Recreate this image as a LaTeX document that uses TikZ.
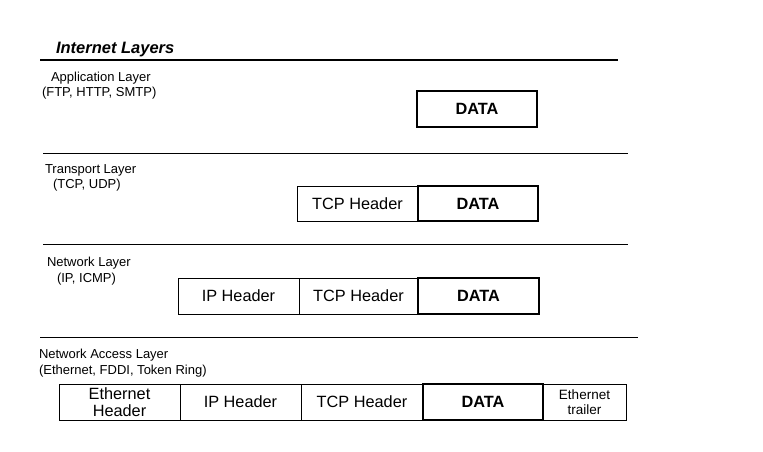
\documentclass[tikz,border=0pt]{standalone}
\usepackage{fontspec}
\setmainfont{Liberation Sans}
\begin{document}
\begin{tikzpicture}[x=1pt,y=-1pt,
  cell/.style={draw, line width=0.8pt, inner sep=0pt, outer sep=0pt, anchor=north west,
    align=center, font=\fontsize{16.3}{17.5}\selectfont},
  datacell/.style={cell, line width=2.2pt, font=\fontsize{16.3}{17.5}\selectfont\bfseries},
  smallcell/.style={cell, font=\fontsize{13.5}{15}\selectfont},
  lbl/.style={anchor=base west, inner sep=0pt, outer sep=0pt, font=\fontsize{13}{15}\selectfont},
  sep/.style={line width=0.8pt}]
\useasboundingbox (0,0) rectangle (763,451);

% title and separators
\node[lbl, font=\fontsize{16.5}{18}\selectfont\bfseries\itshape] (title) at (56,53) {Internet Layers};
\coordinate (s1a) at (40,60);  \coordinate (s1b) at (618,60);
\coordinate (s2a) at (43,153); \coordinate (s2b) at (628,153);
\coordinate (s3a) at (43,244); \coordinate (s3b) at (628,244);
\coordinate (s4a) at (40,337); \coordinate (s4b) at (638,337);
\draw[line width=2pt] (s1a) -- (s1b);
\draw[sep] (s2a) -- (s2b);
\draw[sep] (s3a) -- (s3b);
\draw[sep] (s4a) -- (s4b);

% layer labels
\node[lbl] (app1) at (51,81) {Application Layer};
\node[lbl] (app2) at (42,96) {(FTP, HTTP, SMTP)};
\node[lbl] (tr1) at (45,173) {Transport Layer};
\node[lbl] (tr2) at (53,188) {(TCP, UDP)};
\node[lbl] (nw1) at (47,266) {Network Layer};
\node[lbl] (nw2) at (57,282) {(IP, ICMP)};
\node[lbl] (na1) at (39,358) {Network Access Layer};
\node[lbl] (na2) at (39,374) {(Ethernet, FDDI, Token Ring)};

% row 1
\node[datacell, minimum width=120pt, minimum height=36pt] (data1) at (417,91) {DATA};
% row 2
\node[cell, minimum width=121pt, minimum height=35pt] (tcp2) at (297,186) {TCP Header};
\node[datacell, minimum width=120pt, minimum height=35pt] (data2) at (418,186) {DATA};
% row 3
\node[cell, minimum width=121pt, minimum height=36pt] (ip3) at (178,278) {IP Header};
\node[cell, minimum width=119pt, minimum height=36pt] (tcp3) at (299,278) {TCP Header};
\node[datacell, minimum width=121pt, minimum height=36pt] (data3) at (418,278) {DATA};
% row 4
\node[cell, minimum width=121pt, minimum height=36pt] (eth4) at (59,384) {Ethernet\\Header};
\node[cell, minimum width=121pt, minimum height=36pt] (ip4) at (180,384) {IP Header};
\node[cell, minimum width=122pt, minimum height=36pt] (tcp4) at (301,384) {TCP Header};
\node[smallcell, minimum width=83pt, minimum height=36pt] (trl4) at (543,384) {Ethernet\\trailer};
\node[datacell, minimum width=120pt, minimum height=36pt] (data4) at (423,384) {DATA};
\end{tikzpicture}
\end{document}
